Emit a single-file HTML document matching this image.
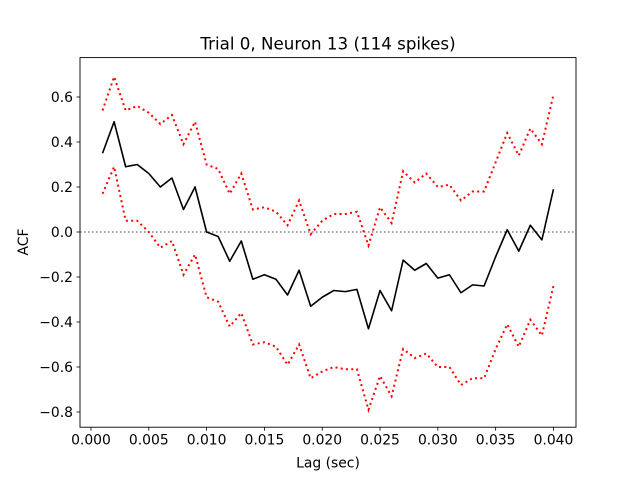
<!DOCTYPE html>
<html><head><meta charset="utf-8"><style>
body{margin:0;background:#fff;}
svg{font-family:"DejaVu Sans","Liberation Sans",sans-serif;}
</style></head><body>
<svg id="chart" width="640" height="480" viewBox="0 0 640 480">
<rect width="640" height="480" fill="#fff"/>
<text x="328" y="49.5" font-size="16.7" text-anchor="middle">Trial 0, Neuron 13 (114 spikes)</text>
<g id="ticks"></g>
<g id="plot"></g>
<rect x="80" y="57.6" width="496" height="369.6" fill="none" stroke="#000" stroke-width="0.9"/>
<text x="328" y="467.5" font-size="13.9" text-anchor="middle">Lag (sec)</text>
<text transform="translate(28,242) rotate(-90)" font-size="13.9" text-anchor="middle">ACF</text>
</svg>
<script>
const lags = [];
for (let i = 1; i <= 40; i++) lags.push(i / 1000);
const acf = [0.35,0.49,0.29,0.30,0.26,0.20,0.24,0.10,0.20,0.00,-0.02,-0.13,-0.04,-0.21,-0.19,-0.21,-0.28,-0.17,-0.33,-0.29,-0.26,-0.265,-0.255,-0.43,-0.26,-0.35,-0.125,-0.17,-0.14,-0.205,-0.19,-0.27,-0.235,-0.24,-0.11,0.01,-0.085,0.03,-0.035,0.19];
const upper = [0.54,0.69,0.54,0.56,0.53,0.48,0.52,0.39,0.49,0.30,0.28,0.17,0.26,0.10,0.11,0.09,0.03,0.14,-0.01,0.05,0.08,0.08,0.09,-0.06,0.11,0.04,0.27,0.22,0.26,0.20,0.21,0.14,0.18,0.18,0.31,0.44,0.34,0.46,0.39,0.61];
const lower = [0.17,0.29,0.05,0.05,0.00,-0.07,-0.04,-0.19,-0.10,-0.29,-0.31,-0.42,-0.36,-0.50,-0.49,-0.51,-0.59,-0.50,-0.65,-0.62,-0.60,-0.61,-0.61,-0.79,-0.64,-0.73,-0.52,-0.56,-0.54,-0.60,-0.60,-0.68,-0.65,-0.65,-0.52,-0.41,-0.51,-0.39,-0.46,-0.24];
const xTicks = [0,0.005,0.010,0.015,0.020,0.025,0.030,0.035,0.040];
const xTickLabels = ["0.000","0.005","0.010","0.015","0.020","0.025","0.030","0.035","0.040"];
const yTicks = [-0.8,-0.6,-0.4,-0.2,0,0.2,0.4,0.6];
const yTickLabels = ["\u22120.8","\u22120.6","\u22120.4","\u22120.2","0.0","0.2","0.4","0.6"];

const NS = "http://www.w3.org/2000/svg";
const L = 80, R = 576, T = 57.6, B = 427.2;
const xmin = -0.00095, xmax = 0.04195;
const X = v => L + (v - xmin) / (xmax - xmin) * (R - L);
const Y = v => 232 - v * 225;
function mk(tag, attrs, parent) {
  const e = document.createElementNS(NS, tag);
  for (const k in attrs) e.setAttribute(k, attrs[k]);
  parent.appendChild(e);
  return e;
}
const ticks = document.getElementById('ticks');
const plot = document.getElementById('plot');
xTicks.forEach((v, i) => {
  const t = mk('line', {x1: X(v), x2: X(v), y1: B, y2: B + 3.5, stroke: '#000', 'stroke-width': 0.8}, ticks);
  
  
  const s = mk('text', {x: X(v), y: B + 17.5, 'font-size': 13.9, 'text-anchor': 'middle'}, ticks);
  s.textContent = xTickLabels[i];
  
  
});
yTicks.forEach((v, i) => {
  const t = mk('line', {x1: L - 3.5, x2: L, y1: Y(v), y2: Y(v), stroke: '#000', 'stroke-width': 0.8}, ticks);
  
  
  const s = mk('text', {x: L - 7, y: Y(v) + 5, 'font-size': 13.9, 'text-anchor': 'end'}, ticks);
  s.textContent = yTickLabels[i];
  
  
});
const zero = mk('line', {x1: L, x2: R, y1: Y(0), y2: Y(0), stroke: '#808080', 'stroke-width': 1.5, 'stroke-dasharray': '1.5,2.5'}, plot);


function pts(arr) { return arr.map((v, i) => X(lags[i]) + ',' + Y(v)).join(' '); }
const up = mk('polyline', {points: pts(upper), fill: 'none', stroke: '#ff0000', 'stroke-width': 2, 'stroke-dasharray': '2,3.3'}, plot);


const lo = mk('polyline', {points: pts(lower), fill: 'none', stroke: '#ff0000', 'stroke-width': 2, 'stroke-dasharray': '2,3.3'}, plot);


const m = mk('polyline', {points: pts(acf), fill: 'none', stroke: '#000', 'stroke-width': 1.6, 'stroke-linejoin': 'round'}, plot);


</script>
</body></html>
